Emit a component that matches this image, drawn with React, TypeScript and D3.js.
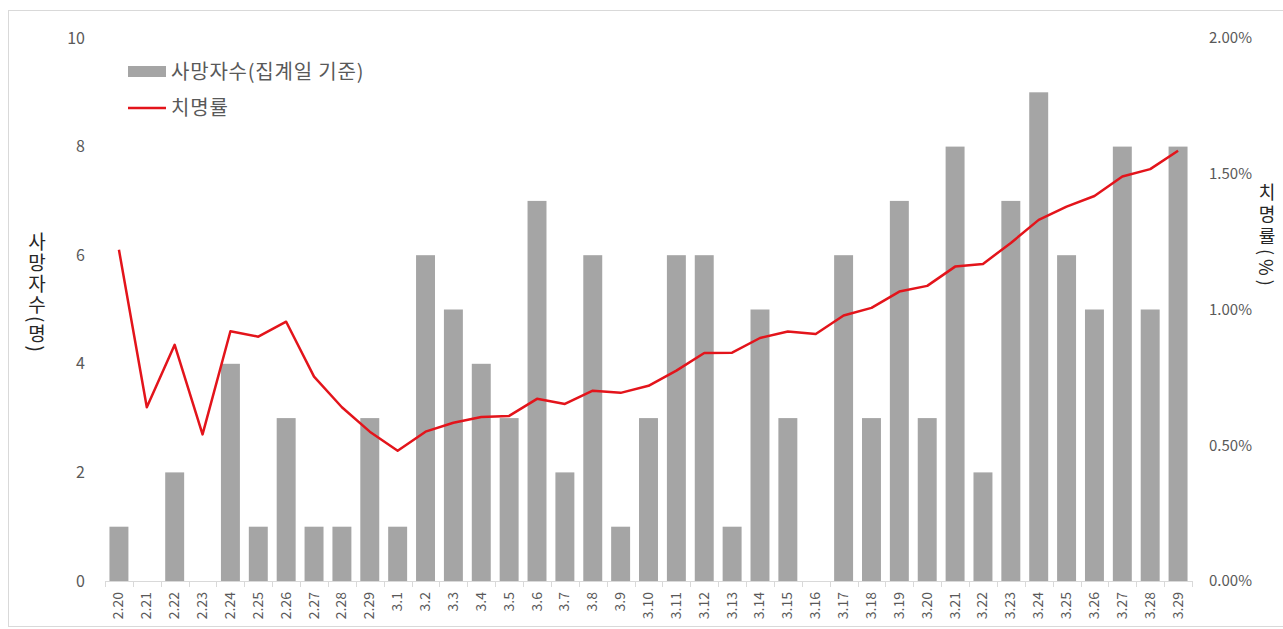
import * as d3 from 'd3';
import { useEffect, useRef } from 'react';

const dates = [
  '2.20', '2.21', '2.22', '2.23', '2.24', '2.25', '2.26', '2.27', '2.28', '2.29',
  '3.1', '3.2', '3.3', '3.4', '3.5', '3.6', '3.7', '3.8', '3.9', '3.10',
  '3.11', '3.12', '3.13', '3.14', '3.15', '3.16', '3.17', '3.18', '3.19', '3.20',
  '3.21', '3.22', '3.23', '3.24', '3.25', '3.26', '3.27', '3.28', '3.29',
];

// 사망자수 (집계일 기준)
const deaths = [
  1, 0, 2, 0, 4, 1, 3, 1, 1, 3,
  1, 6, 5, 4, 3, 7, 2, 6, 1, 3,
  6, 6, 1, 5, 3, 0, 6, 3, 7, 3,
  8, 2, 7, 9, 6, 5, 8, 5, 8,
];

// 치명률 (%)
const fatality = [
  1.22, 0.64, 0.87, 0.54, 0.92, 0.9, 0.955, 0.753, 0.64, 0.55,
  0.48, 0.55, 0.583, 0.604, 0.608, 0.671, 0.652, 0.701, 0.693, 0.719,
  0.775, 0.84, 0.841, 0.895, 0.919, 0.91, 0.978, 1.006, 1.066, 1.087,
  1.158, 1.168, 1.245, 1.33, 1.379, 1.418, 1.49, 1.517, 1.585,
];

const leftTicks = [0, 2, 4, 6, 8, 10];
const rightTicks = [0, 0.5, 1, 1.5, 2];

const FONT = '"Noto Sans CJK KR", "Noto Sans", sans-serif';
const TEXT = '#595959';

export default function App() {
  const svgRef = useRef<SVGSVGElement>(null);

  useEffect(() => {
    if (!svgRef.current) return;
    const svg = d3.select(svgRef.current);
    svg.selectAll('*').remove();

    const left = 105;
    const right = 1192;
    const top = 38;
    const bottom = 581;

    const x = d3.scaleBand<string>().domain(dates).range([left, right]).paddingInner(0.32).paddingOuter(0.16);
    const y = d3.scaleLinear().domain([0, 10]).range([bottom, top]);
    const yR = d3.scaleLinear().domain([0, 2]).range([bottom, top]);

    // outer frame
    svg.append('rect')
      .attr('x', 8.5).attr('y', 10.5).attr('width', 1290).attr('height', 616)
      .attr('fill', '#fff').attr('stroke', '#d9d9d9');

    // bars
    svg.append('g')
      .selectAll('rect')
      .data(dates)
      .join('rect')
      .attr('x', (d) => x(d)!)
      .attr('width', x.bandwidth())
      .attr('y', (_, i) => y(deaths[i]))
      .attr('height', (_, i) => y(0) - y(deaths[i]))
      .attr('fill', '#a5a5a5');

    // x baseline + ticks at category boundaries
    const xAxis = svg.append('g');
    xAxis.append('line')
      .attr('x1', left).attr('x2', right).attr('y1', bottom + 0.5).attr('y2', bottom + 0.5)
      .attr('stroke', '#d9d9d9');
    xAxis.selectAll('line.tick')
      .data(d3.range(dates.length + 1))
      .join('line')
      .attr('class', 'tick')
      .attr('x1', (i) => Math.round(left + i * x.step()) + 0.5)
      .attr('x2', (i) => Math.round(left + i * x.step()) + 0.5)
      .attr('y1', bottom)
      .attr('y2', bottom + 6)
      .attr('stroke', '#d9d9d9');
    xAxis.selectAll('text')
      .data(dates)
      .join('text')
      .attr('transform', (d) => `translate(${x(d)! + x.bandwidth() / 2 + 4.5},${bottom + 11}) rotate(-90)`)
      .attr('text-anchor', 'end')
      .attr('font-family', FONT)
      .attr('font-size', 14)
      .attr('fill', TEXT)
      .text((d) => d);

    // left axis labels
    svg.append('g')
      .selectAll('text')
      .data(leftTicks)
      .join('text')
      .attr('x', 85)
      .attr('y', (d) => y(d))
      .attr('dy', '0.35em')
      .attr('text-anchor', 'end')
      .attr('font-family', FONT)
      .attr('font-size', 16)
      .attr('fill', TEXT)
      .text((d) => d);

    // right axis labels
    svg.append('g')
      .selectAll('text')
      .data(rightTicks)
      .join('text')
      .attr('x', 1209)
      .attr('y', (d) => yR(d))
      .attr('dy', '0.35em')
      .attr('font-family', FONT)
      .attr('font-size', 15)
      .attr('fill', TEXT)
      .text((d) => d3.format('.2f')(d) + '%');

    // fatality line
    const line = d3.line<number>()
      .x((_, i) => x(dates[i])! + x.bandwidth() / 2)
      .y((d) => yR(d));
    svg.append('path')
      .datum(fatality)
      .attr('fill', 'none')
      .attr('stroke', '#e3141b')
      .attr('stroke-width', 2.5)
      .attr('stroke-linejoin', 'round')
      .attr('d', line);

    // axis titles (vertical text)
    svg.append('text')
      .attr('x', 37).attr('y', 232)
      .attr('writing-mode', 'vertical-rl')
      .attr('font-family', FONT)
      .attr('font-size', 19)
      .attr('letter-spacing', 2)
      .attr('fill', '#262626')
      .text('사망자수(명)');
    svg.append('text')
      .attr('x', 1267).attr('y', 183)
      .attr('writing-mode', 'vertical-rl')
      .attr('font-family', FONT)
      .attr('font-size', 18)
      .attr('letter-spacing', 4)
      .attr('fill', '#262626')
      .text('치명률(%)');

    // legend
    const legend = svg.append('g');
    legend.append('rect')
      .attr('x', 128).attr('y', 66).attr('width', 38).attr('height', 11)
      .attr('fill', '#a5a5a5');
    legend.append('text')
      .attr('x', 171).attr('y', 72).attr('dy', '0.35em')
      .attr('font-family', FONT).attr('font-size', 20).attr('letter-spacing', 0.8).attr('fill', TEXT)
      .text('사망자수(집계일 기준)');
    legend.append('line')
      .attr('x1', 128).attr('x2', 166).attr('y1', 108).attr('y2', 108)
      .attr('stroke', '#e3141b').attr('stroke-width', 2.5);
    legend.append('text')
      .attr('x', 171).attr('y', 108).attr('dy', '0.35em')
      .attr('font-family', FONT).attr('font-size', 20).attr('letter-spacing', 0.8).attr('fill', TEXT)
      .text('치명률');
  }, []);

  return (
    <svg
      ref={svgRef}
      width={1283}
      height={629}
      style={{ position: 'absolute', left: 0, top: 0, display: 'block', background: '#fff' }}
    />
  );
}
